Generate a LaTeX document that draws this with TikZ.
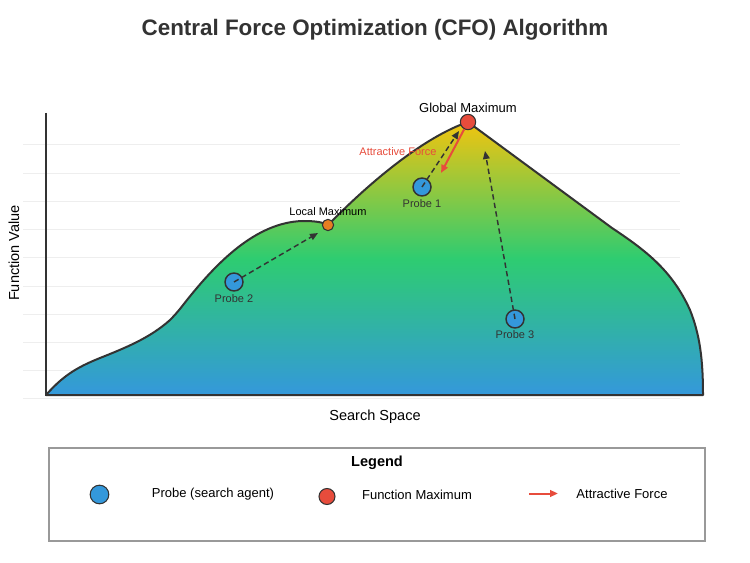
\documentclass[tikz,border=0pt]{standalone}
\usepackage{fontspec}
\setmainfont{Liberation Sans}
\usetikzlibrary{arrows.meta}
\definecolor{txt}{HTML}{333333}
\definecolor{probeblue}{HTML}{3498DB}
\definecolor{maxred}{HTML}{E74C3C}
\definecolor{locorange}{HTML}{E67E22}
\definecolor{topyellow}{HTML}{F1C40F}
\definecolor{midgreen}{HTML}{2ECC71}
\definecolor{gridgray}{HTML}{EEEEEE}
\definecolor{legendgray}{HTML}{999999}
\newcommand{\fs}[1]{\fontsize{#1}{#1}\selectfont}
\tikzset{
  probe/.style={circle, fill=probeblue, draw=txt, line width=1.1pt, minimum size=13.5pt, inner sep=0pt},
  gmax/.style={circle, fill=maxred, draw=txt, line width=0.8pt, minimum size=11.5pt, inner sep=0pt},
  lmax/.style={circle, fill=locorange, draw=txt, line width=0.8pt, minimum size=8.5pt, inner sep=0pt},
  lbl/.style={text=txt, font=\fs{8.25pt}, inner sep=0pt},
  movearrow/.style={draw=txt, line width=1.1pt, dash pattern=on 4pt off 2.5pt, -{Triangle[length=6pt,width=5pt]}},
  forcearrow/.style={draw=maxred, line width=1.5pt, -{Triangle[length=6pt,width=5pt]}},
  gridline/.style={draw=gridgray, line width=0.75pt},
  axisline/.style={draw=txt, line width=1.5pt},
}
\begin{document}
\begin{tikzpicture}[x=0.75pt,y=-0.75pt]
\useasboundingbox (0,0) rectangle (750,563);
\fill[white] (0,0) rectangle (750,563);
% title
\node[text=txt, font=\bfseries\fs{16.8pt}] (title) at (375,30) {Central Force Optimization (CFO) Algorithm};
% grid
\foreach \k in {0,...,9} {
  \draw[gridline] (23,{145+28.2*\k}) -- (680,{145+28.2*\k});
}
% landscape
\def\curvepath{(46,395) .. controls (62,377) and (75,368) .. (100,358) .. controls (125,348) and (150,338) .. (170,320) .. controls (178,312) and (183,305) .. (187,300) .. controls (215,265) and (255,222) .. (303,221) .. controls (315,221) and (322,222) .. (328,225) .. controls (380,172) and (430,135) .. (468,122) -- (612,228) .. controls (645,250) and (672,270) .. (690,310) .. controls (700,335) and (703,360) .. (703,395) -- cycle}
\shade[top color=topyellow, bottom color=probeblue, middle color=midgreen] \curvepath;
\draw[txt, line width=1.5pt, line join=round] \curvepath;
% axes
\coordinate (origin) at (46,395);
\coordinate (ytop) at (46,113);
\coordinate (xend) at (703,395);
\draw[axisline] (ytop) -- (origin) -- (xend);
\node[text=black, font=\fs{10.9pt}, rotate=90] (ylab) at (14,253) {Function Value};
\node[text=black, font=\fs{10.9pt}] (xlab) at (375,417) {Search Space};
% maxima
\node[gmax] (gm) at (468,122) {};
\node[lmax] (lm) at (328,225) {};
\node[text=black, font=\fs{9.75pt}] (gmlab) at (468,108) {Global Maximum};
\node[text=black, font=\fs{8.25pt}] (lmlab) at (328,212) {Local Maximum};
% probes
\node[probe] (p1) at (422,187) {};
\node[probe] (p2) at (234,282) {};
\node[probe] (p3) at (515,319) {};
\node[lbl] (p1lab) at (422,204) {Probe 1};
\node[lbl] (p2lab) at (234,299) {Probe 2};
\node[lbl] (p3lab) at (515,335) {Probe 3};
% movement arrows
\coordinate (t1) at (459,131);
\coordinate (t2) at (318,233);
\coordinate (t3) at (485,151);
\draw[movearrow] (p1.center) -- (t1);
\draw[movearrow] (p2.center) -- (t2);
\draw[movearrow] (p3.center) -- (t3);
% attractive force
\coordinate (ft) at (441,173);
\draw[forcearrow] (gm) -- (ft);
\node[text=maxred, font=\fs{8.25pt}] (flab) at (398,151.5) {Attractive Force};
% legend
\node[draw=legendgray, line width=1.1pt, fill=white, minimum width=492pt, minimum height=69.75pt, inner sep=0pt] (legend) at (377,494.5) {};
\node[text=black, font=\bfseries\fs{10.9pt}] (legtitle) at (377,462.5) {Legend};
\node[probe, minimum size=14pt, line width=0.8pt] (legprobe) at (99.5,494.5) {};
\node[text=black, font=\fs{9.75pt}] (legprobelab) at (213,494) {Probe (search agent)};
\node[gmax, minimum size=12pt] (legmax) at (327,496.5) {};
\node[text=black, font=\fs{9.75pt}] (legmaxlab) at (417,495) {Function Maximum};
\coordinate (la1) at (529,493.5);
\coordinate (la2) at (558,493.5);
\draw[forcearrow] (la1) -- (la2);
\node[text=black, font=\fs{9.75pt}] (legforcelab) at (622,494) {Attractive Force};
\end{tikzpicture}
\end{document}
